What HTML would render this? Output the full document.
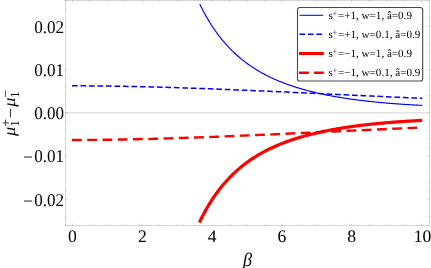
<!DOCTYPE html>
<html><head><meta charset="utf-8"><title>plot</title>
<style>html,body{margin:0;padding:0;background:#fff;}body{width:431px;height:268px;overflow:hidden;font-family:"Liberation Serif",serif;}svg{display:block;will-change:transform;}</style>
</head><body>
<svg width="431" height="268" viewBox="0 0 431 268" text-rendering="geometricPrecision">
<rect width="431" height="268" fill="#fff"/>
<line x1="65.5" y1="112.9" x2="429.5" y2="112.9" stroke="#dadada" stroke-width="1.25"/>
<rect x="65.5" y="0.5" width="364.0" height="225.0" fill="none" stroke="#666" stroke-width="0.27"/>
<path d="M72.50,225.5 v-2.0 M72.50,0.5 v2.0 M89.95,225.5 v-1.2 M89.95,0.5 v1.2 M107.40,225.5 v-1.2 M107.40,0.5 v1.2 M124.85,225.5 v-1.2 M124.85,0.5 v1.2 M142.30,225.5 v-2.0 M142.30,0.5 v2.0 M159.75,225.5 v-1.2 M159.75,0.5 v1.2 M177.20,225.5 v-1.2 M177.20,0.5 v1.2 M194.65,225.5 v-1.2 M194.65,0.5 v1.2 M212.10,225.5 v-2.0 M212.10,0.5 v2.0 M229.55,225.5 v-1.2 M229.55,0.5 v1.2 M247.00,225.5 v-1.2 M247.00,0.5 v1.2 M264.45,225.5 v-1.2 M264.45,0.5 v1.2 M281.90,225.5 v-2.0 M281.90,0.5 v2.0 M299.35,225.5 v-1.2 M299.35,0.5 v1.2 M316.80,225.5 v-1.2 M316.80,0.5 v1.2 M334.25,225.5 v-1.2 M334.25,0.5 v1.2 M351.70,225.5 v-2.0 M351.70,0.5 v2.0 M369.15,225.5 v-1.2 M369.15,0.5 v1.2 M386.60,225.5 v-1.2 M386.60,0.5 v1.2 M404.05,225.5 v-1.2 M404.05,0.5 v1.2 M421.50,225.5 v-2.0 M421.50,0.5 v2.0 M65.5,225.22 h1.2 M429.5,225.22 h-1.2 M65.5,216.58 h1.2 M429.5,216.58 h-1.2 M65.5,207.94 h1.2 M429.5,207.94 h-1.2 M65.5,199.30 h2.0 M429.5,199.30 h-2.0 M65.5,190.66 h1.2 M429.5,190.66 h-1.2 M65.5,182.02 h1.2 M429.5,182.02 h-1.2 M65.5,173.38 h1.2 M429.5,173.38 h-1.2 M65.5,164.74 h1.2 M429.5,164.74 h-1.2 M65.5,156.10 h2.0 M429.5,156.10 h-2.0 M65.5,147.46 h1.2 M429.5,147.46 h-1.2 M65.5,138.82 h1.2 M429.5,138.82 h-1.2 M65.5,130.18 h1.2 M429.5,130.18 h-1.2 M65.5,121.54 h1.2 M429.5,121.54 h-1.2 M65.5,112.90 h2.0 M429.5,112.90 h-2.0 M65.5,104.26 h1.2 M429.5,104.26 h-1.2 M65.5,95.62 h1.2 M429.5,95.62 h-1.2 M65.5,86.98 h1.2 M429.5,86.98 h-1.2 M65.5,78.34 h1.2 M429.5,78.34 h-1.2 M65.5,69.70 h2.0 M429.5,69.70 h-2.0 M65.5,61.06 h1.2 M429.5,61.06 h-1.2 M65.5,52.42 h1.2 M429.5,52.42 h-1.2 M65.5,43.78 h1.2 M429.5,43.78 h-1.2 M65.5,35.14 h1.2 M429.5,35.14 h-1.2 M65.5,26.50 h2.0 M429.5,26.50 h-2.0 M65.5,17.86 h1.2 M429.5,17.86 h-1.2 M65.5,9.22 h1.2 M429.5,9.22 h-1.2 M65.5,0.58 h1.2 M429.5,0.58 h-1.2" stroke="#666" stroke-width="0.27" fill="none"/>
<path d="M199.75,4.11 L200.87,6.38 L201.99,8.59 L203.11,10.74 L204.22,12.84 L205.34,14.87 L206.46,16.85 L207.58,18.78 L208.70,20.66 L209.82,22.49 L210.93,24.27 L212.05,26.01 L213.17,27.70 L214.29,29.35 L215.41,30.95 L216.53,32.52 L217.64,34.04 L218.76,35.53 L219.88,36.98 L221.00,38.40 L222.12,39.78 L223.24,41.13 L224.35,42.44 L225.47,43.73 L226.59,44.98 L227.71,46.20 L228.83,47.40 L229.95,48.56 L231.06,49.70 L232.18,50.82 L233.30,51.90 L234.42,52.97 L235.54,54.00 L236.66,55.02 L237.77,56.01 L238.89,56.98 L240.01,57.93 L241.13,58.86 L242.25,59.76 L243.37,60.65 L244.48,61.52 L245.60,62.37 L246.72,63.20 L247.84,64.01 L248.96,64.81 L250.08,65.59 L251.19,66.35 L252.31,67.10 L253.43,67.83 L254.55,68.54 L255.67,69.25 L256.79,69.93 L257.90,70.61 L259.02,71.27 L260.14,71.91 L261.26,72.55 L262.38,73.17 L263.50,73.78 L264.61,74.37 L265.73,74.96 L266.85,75.53 L267.97,76.10 L269.09,76.65 L270.21,77.19 L271.32,77.72 L272.44,78.24 L273.56,78.75 L274.68,79.25 L275.80,79.75 L276.92,80.23 L278.03,80.70 L279.15,81.17 L280.27,81.63 L281.39,82.07 L282.51,82.52 L283.63,82.95 L284.74,83.37 L285.86,83.79 L286.98,84.20 L288.10,84.60 L289.22,85.00 L290.34,85.38 L291.45,85.77 L292.57,86.14 L293.69,86.51 L294.81,86.87 L295.93,87.23 L297.05,87.58 L298.16,87.92 L299.28,88.26 L300.40,88.59 L301.52,88.92 L302.64,89.24 L303.76,89.55 L304.87,89.86 L305.99,90.17 L307.11,90.47 L308.23,90.76 L309.35,91.05 L310.47,91.34 L311.58,91.62 L312.70,91.89 L313.82,92.16 L314.94,92.43 L316.06,92.69 L317.18,92.95 L318.29,93.21 L319.41,93.46 L320.53,93.70 L321.65,93.94 L322.77,94.18 L323.89,94.42 L325.00,94.65 L326.12,94.87 L327.24,95.10 L328.36,95.32 L329.48,95.53 L330.60,95.75 L331.71,95.96 L332.83,96.16 L333.95,96.37 L335.07,96.57 L336.19,96.76 L337.31,96.96 L338.42,97.15 L339.54,97.33 L340.66,97.52 L341.78,97.70 L342.90,97.88 L344.02,98.06 L345.13,98.23 L346.25,98.40 L347.37,98.57 L348.49,98.73 L349.61,98.90 L350.73,99.06 L351.84,99.21 L352.96,99.37 L354.08,99.52 L355.20,99.67 L356.32,99.82 L357.44,99.97 L358.55,100.11 L359.67,100.25 L360.79,100.39 L361.91,100.53 L363.03,100.67 L364.15,100.80 L365.26,100.93 L366.38,101.06 L367.50,101.18 L368.62,101.31 L369.74,101.43 L370.86,101.55 L371.97,101.67 L373.09,101.79 L374.21,101.90 L375.33,102.02 L376.45,102.13 L377.57,102.24 L378.68,102.35 L379.80,102.45 L380.92,102.56 L382.04,102.66 L383.16,102.76 L384.28,102.86 L385.39,102.96 L386.51,103.06 L387.63,103.15 L388.75,103.25 L389.87,103.34 L390.99,103.43 L392.10,103.52 L393.22,103.60 L394.34,103.69 L395.46,103.77 L396.58,103.86 L397.70,103.94 L398.81,104.02 L399.93,104.10 L401.05,104.17 L402.17,104.25 L403.29,104.33 L404.41,104.40 L405.52,104.47 L406.64,104.54 L407.76,104.61 L408.88,104.68 L410.00,104.75 L411.12,104.81 L412.23,104.88 L413.35,104.94 L414.47,105.00 L415.59,105.06 L416.71,105.12 L417.83,105.18 L418.94,105.24 L420.06,105.29 L421.18,105.35 L422.30,105.40" stroke="#0000ff" stroke-width="1.15" fill="none"/>
<path d="M72.00,85.80 L74.94,85.81 L77.89,85.82 L80.83,85.83 L83.77,85.85 L86.72,85.86 L89.66,85.88 L92.61,85.91 L95.55,85.93 L98.49,85.96 L101.44,86.00 L104.38,86.03 L107.32,86.07 L110.27,86.11 L113.21,86.15 L116.16,86.20 L119.10,86.25 L122.04,86.30 L124.99,86.35 L127.93,86.41 L130.87,86.47 L133.82,86.53 L136.76,86.59 L139.71,86.66 L142.65,86.73 L145.59,86.80 L148.54,86.87 L151.48,86.94 L154.42,87.02 L157.37,87.10 L160.31,87.18 L163.25,87.26 L166.20,87.35 L169.14,87.44 L172.09,87.53 L175.03,87.62 L177.97,87.71 L180.92,87.80 L183.86,87.90 L186.80,88.00 L189.75,88.10 L192.69,88.20 L195.64,88.30 L198.58,88.41 L201.52,88.51 L204.47,88.62 L207.41,88.73 L210.35,88.84 L213.30,88.95 L216.24,89.07 L219.18,89.18 L222.13,89.30 L225.07,89.42 L228.02,89.53 L230.96,89.65 L233.90,89.78 L236.85,89.90 L239.79,90.02 L242.73,90.15 L245.68,90.27 L248.62,90.40 L251.57,90.52 L254.51,90.65 L257.45,90.78 L260.40,90.91 L263.34,91.04 L266.28,91.17 L269.23,91.30 L272.17,91.44 L275.12,91.57 L278.06,91.71 L281.00,91.84 L283.95,91.97 L286.89,92.11 L289.83,92.25 L292.78,92.38 L295.72,92.52 L298.66,92.66 L301.61,92.79 L304.55,92.93 L307.50,93.07 L310.44,93.21 L313.38,93.35 L316.33,93.49 L319.27,93.62 L322.21,93.76 L325.16,93.90 L328.10,94.04 L331.05,94.18 L333.99,94.32 L336.93,94.46 L339.88,94.59 L342.82,94.73 L345.76,94.87 L348.71,95.01 L351.65,95.14 L354.59,95.28 L357.54,95.42 L360.48,95.55 L363.43,95.69 L366.37,95.82 L369.31,95.96 L372.26,96.09 L375.20,96.23 L378.14,96.36 L381.09,96.49 L384.03,96.62 L386.98,96.75 L389.92,96.88 L392.86,97.01 L395.81,97.14 L398.75,97.27 L401.69,97.39 L404.64,97.52 L407.58,97.64 L410.53,97.76 L413.47,97.89 L416.41,98.01 L419.36,98.13 L422.30,98.25" stroke="#0000ff" stroke-width="1.5" fill="none" stroke-dasharray="5.7 2.79"/>
<path d="M199.35,222.52 L200.47,220.22 L201.59,217.98 L202.71,215.81 L203.83,213.69 L204.95,211.63 L206.07,209.63 L207.19,207.68 L208.31,205.78 L209.43,203.93 L210.55,202.13 L211.67,200.37 L212.79,198.67 L213.91,197.00 L215.03,195.38 L216.16,193.80 L217.28,192.25 L218.40,190.75 L219.52,189.28 L220.64,187.85 L221.76,186.46 L222.88,185.10 L224.00,183.77 L225.12,182.48 L226.24,181.21 L227.36,179.98 L228.48,178.77 L229.60,177.59 L230.72,176.44 L231.84,175.32 L232.96,174.22 L234.08,173.15 L235.20,172.10 L236.32,171.08 L237.44,170.08 L238.56,169.10 L239.68,168.15 L240.80,167.21 L241.92,166.30 L243.04,165.40 L244.16,164.53 L245.28,163.67 L246.40,162.83 L247.53,162.01 L248.65,161.21 L249.77,160.43 L250.89,159.66 L252.01,158.91 L253.13,158.17 L254.25,157.45 L255.37,156.74 L256.49,156.05 L257.61,155.37 L258.73,154.70 L259.85,154.05 L260.97,153.41 L262.09,152.79 L263.21,152.18 L264.33,151.58 L265.45,150.99 L266.57,150.41 L267.69,149.84 L268.81,149.29 L269.93,148.74 L271.05,148.21 L272.17,147.68 L273.29,147.17 L274.41,146.66 L275.53,146.17 L276.65,145.68 L277.77,145.20 L278.89,144.74 L280.02,144.28 L281.14,143.83 L282.26,143.38 L283.38,142.95 L284.50,142.52 L285.62,142.10 L286.74,141.69 L287.86,141.28 L288.98,140.89 L290.10,140.50 L291.22,140.11 L292.34,139.74 L293.46,139.37 L294.58,139.00 L295.70,138.65 L296.82,138.29 L297.94,137.95 L299.06,137.61 L300.18,137.28 L301.30,136.95 L302.42,136.63 L303.54,136.31 L304.66,136.00 L305.78,135.69 L306.90,135.39 L308.02,135.09 L309.14,134.80 L310.26,134.52 L311.39,134.23 L312.51,133.96 L313.63,133.68 L314.75,133.42 L315.87,133.15 L316.99,132.89 L318.11,132.64 L319.23,132.39 L320.35,132.14 L321.47,131.90 L322.59,131.66 L323.71,131.42 L324.83,131.19 L325.95,130.96 L327.07,130.74 L328.19,130.52 L329.31,130.30 L330.43,130.08 L331.55,129.87 L332.67,129.67 L333.79,129.46 L334.91,129.26 L336.03,129.07 L337.15,128.87 L338.27,128.68 L339.39,128.49 L340.51,128.31 L341.63,128.12 L342.76,127.94 L343.88,127.77 L345.00,127.59 L346.12,127.42 L347.24,127.25 L348.36,127.09 L349.48,126.92 L350.60,126.76 L351.72,126.60 L352.84,126.45 L353.96,126.29 L355.08,126.14 L356.20,125.99 L357.32,125.85 L358.44,125.70 L359.56,125.56 L360.68,125.42 L361.80,125.28 L362.92,125.15 L364.04,125.01 L365.16,124.88 L366.28,124.75 L367.40,124.63 L368.52,124.50 L369.64,124.38 L370.76,124.26 L371.88,124.14 L373.00,124.02 L374.12,123.90 L375.25,123.79 L376.37,123.68 L377.49,123.57 L378.61,123.46 L379.73,123.35 L380.85,123.25 L381.97,123.14 L383.09,123.04 L384.21,122.94 L385.33,122.84 L386.45,122.75 L387.57,122.65 L388.69,122.56 L389.81,122.47 L390.93,122.38 L392.05,122.29 L393.17,122.20 L394.29,122.11 L395.41,122.03 L396.53,121.95 L397.65,121.86 L398.77,121.78 L399.89,121.71 L401.01,121.63 L402.13,121.55 L403.25,121.48 L404.37,121.40 L405.49,121.33 L406.62,121.26 L407.74,121.19 L408.86,121.12 L409.98,121.06 L411.10,120.99 L412.22,120.92 L413.34,120.86 L414.46,120.80 L415.58,120.74 L416.70,120.68 L417.82,120.62 L418.94,120.56 L420.06,120.51 L421.18,120.45 L422.30,120.40" stroke="#ff0000" stroke-width="3.2" fill="none"/>
<path d="M72.00,140.00 L74.94,139.99 L77.89,139.98 L80.83,139.97 L83.77,139.95 L86.72,139.94 L89.66,139.92 L92.61,139.89 L95.55,139.87 L98.49,139.84 L101.44,139.80 L104.38,139.77 L107.32,139.73 L110.27,139.69 L113.21,139.65 L116.16,139.60 L119.10,139.55 L122.04,139.50 L124.99,139.45 L127.93,139.39 L130.87,139.33 L133.82,139.27 L136.76,139.21 L139.71,139.14 L142.65,139.07 L145.59,139.00 L148.54,138.93 L151.48,138.86 L154.42,138.78 L157.37,138.70 L160.31,138.62 L163.25,138.54 L166.20,138.45 L169.14,138.36 L172.09,138.27 L175.03,138.18 L177.97,138.09 L180.92,138.00 L183.86,137.90 L186.80,137.80 L189.75,137.70 L192.69,137.60 L195.64,137.50 L198.58,137.39 L201.52,137.29 L204.47,137.18 L207.41,137.07 L210.35,136.96 L213.30,136.85 L216.24,136.73 L219.18,136.62 L222.13,136.50 L225.07,136.38 L228.02,136.27 L230.96,136.15 L233.90,136.02 L236.85,135.90 L239.79,135.78 L242.73,135.65 L245.68,135.53 L248.62,135.40 L251.57,135.28 L254.51,135.15 L257.45,135.02 L260.40,134.89 L263.34,134.76 L266.28,134.63 L269.23,134.50 L272.17,134.36 L275.12,134.23 L278.06,134.09 L281.00,133.96 L283.95,133.83 L286.89,133.69 L289.83,133.55 L292.78,133.42 L295.72,133.28 L298.66,133.14 L301.61,133.01 L304.55,132.87 L307.50,132.73 L310.44,132.59 L313.38,132.45 L316.33,132.31 L319.27,132.18 L322.21,132.04 L325.16,131.90 L328.10,131.76 L331.05,131.62 L333.99,131.48 L336.93,131.34 L339.88,131.21 L342.82,131.07 L345.76,130.93 L348.71,130.79 L351.65,130.66 L354.59,130.52 L357.54,130.38 L360.48,130.25 L363.43,130.11 L366.37,129.98 L369.31,129.84 L372.26,129.71 L375.20,129.57 L378.14,129.44 L381.09,129.31 L384.03,129.18 L386.98,129.05 L389.92,128.92 L392.86,128.79 L395.81,128.66 L398.75,128.53 L401.69,128.41 L404.64,128.28 L407.58,128.16 L410.53,128.04 L413.47,127.91 L416.41,127.79 L419.36,127.67 L422.30,127.55" stroke="#ff0000" stroke-width="2.4" fill="none" stroke-dasharray="9.8 5.46"/>
<g font-family="Liberation Serif, serif" fill="#000">
<text transform="translate(64.10,32.85) scale(1,1.05)" text-anchor="end" font-size="17.1" >0.02</text>
<text transform="translate(64.10,76.05) scale(1,1.05)" text-anchor="end" font-size="17.1" >0.01</text>
<text transform="translate(64.10,119.25) scale(1,1.05)" text-anchor="end" font-size="17.1" >0.00</text>
<text transform="translate(64.10,162.45) scale(1,1.05)" text-anchor="end" font-size="17.1" ><tspan dy="0.85">−</tspan><tspan dy="-0.85" dx="1.2">0.01</tspan></text>
<text transform="translate(64.10,205.65) scale(1,1.05)" text-anchor="end" font-size="17.1" ><tspan dy="0.85">−</tspan><tspan dy="-0.85" dx="1.2">0.02</tspan></text>
<text transform="translate(72.50,242.30) scale(1,1.0)" text-anchor="middle" font-size="17.6" >0</text>
<text transform="translate(142.30,242.30) scale(1,1.0)" text-anchor="middle" font-size="17.6" >2</text>
<text transform="translate(212.10,242.30) scale(1,1.0)" text-anchor="middle" font-size="17.6" >4</text>
<text transform="translate(281.90,242.30) scale(1,1.0)" text-anchor="middle" font-size="17.6" >6</text>
<text transform="translate(351.70,242.30) scale(1,1.0)" text-anchor="middle" font-size="17.6" >8</text>
<text transform="translate(422.60,242.30) scale(1,1.0)" text-anchor="middle" font-size="17.6" >10</text>
<text transform="translate(247.60,265.90) scale(1,1.05)" text-anchor="middle" font-size="18.2" font-style="italic">β</text>
</g>
<g transform="translate(14.5,135.9) rotate(-90) scale(1.07,1)" font-family="Liberation Serif, serif" fill="#000"><text x="0" y="0" font-size="17" font-style="italic">μ</text><text x="11.7" y="4.5" font-size="12.5" text-anchor="middle">1</text><text x="12.3" y="-4.9" font-size="13" text-anchor="middle">+</text><text x="21.4" y="1.1" font-size="17" text-anchor="middle">−</text><text x="27.3" y="0" font-size="17" font-style="italic">μ</text><text x="38.6" y="4.5" font-size="12.5" text-anchor="middle">1</text><text x="39.4" y="-4.9" font-size="13" text-anchor="middle">−</text></g>
<rect x="297.5" y="7.5" width="125.2" height="73.5" rx="2.3" ry="2.3" fill="#fff" stroke="#484848" stroke-width="1.1"/>
<line x1="299.5" x2="323.2" y1="15.3" y2="15.3" stroke="#0000ff" stroke-width="1.05"/>
<line x1="299.5" x2="323.2" y1="34.3" y2="34.3" stroke="#0000ff" stroke-width="1.5" stroke-dasharray="5.6 2.83"/>
<line x1="299.0" x2="323.8" y1="53.5" y2="53.5" stroke="#ff0000" stroke-width="3.1"/>
<line x1="299.0" x2="323.8" y1="72.75" y2="72.75" stroke="#ff0000" stroke-width="2.4" stroke-dasharray="9.9 5.1"/>
<g font-family="Liberation Serif, serif" font-size="11.08" fill="#000">
<text x="328.4" y="18.90">s<tspan font-size="8.6" dy="-3.1" dx="-0.1">+</tspan><tspan dy="3.1" dx="0.55">=+1, w=1, â=0.9</tspan></text>
<text x="328.4" y="37.90">s<tspan font-size="8.6" dy="-3.1" dx="-0.1">+</tspan><tspan dy="3.1" dx="0.55">=+1, w=0.1, â=0.9</tspan></text>
<text x="328.4" y="57.10">s<tspan font-size="8.6" dy="-3.1" dx="-0.1">+</tspan><tspan dy="3.1" dx="0.55">=−1, w=1, â=0.9</tspan></text>
<text x="328.4" y="76.35">s<tspan font-size="8.6" dy="-3.1" dx="-0.1">+</tspan><tspan dy="3.1" dx="0.55">=−1, w=0.1, â=0.9</tspan></text>
</g>
</svg>
</body></html>
